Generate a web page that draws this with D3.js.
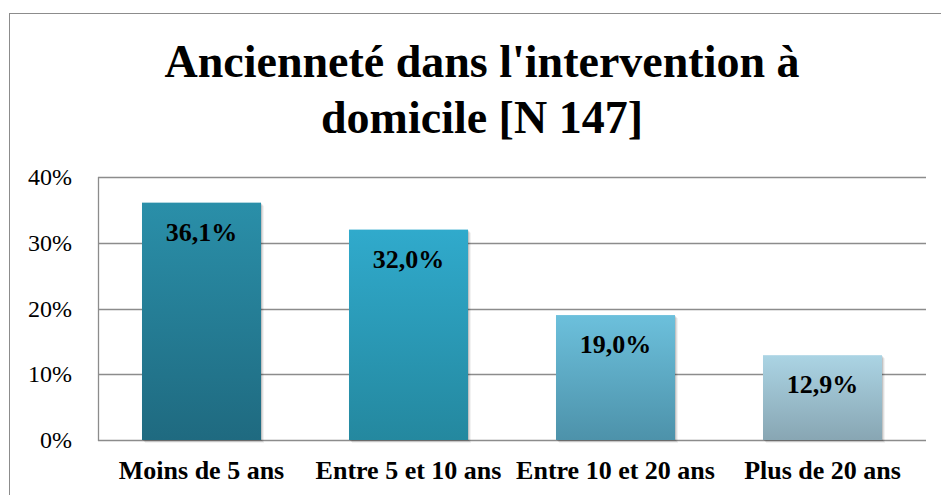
<!DOCTYPE html>
<html><head><meta charset="utf-8">
<script src="https://cdn.jsdelivr.net/npm/d3@7"></script>
</head><body style="margin:0">
<svg id="c" width="941" height="495" font-family="Liberation Serif, Tinos, Times New Roman, serif"></svg>
<script>
const categories = ["Moins de 5 ans", "Entre 5 et 10 ans", "Entre 10 et 20 ans", "Plus de 20 ans"];
const values = [36.1, 32.0, 19.0, 12.9];
const valueLabels = ["36,1%", "32,0%", "19,0%", "12,9%"];
const yTicks = [0, 10, 20, 30, 40];
const titleLines = ["Ancienneté dans l'intervention à", "domicile [N 147]"];
const barColors = [["#2a8fa9", "#1f6a80"], ["#30aacc", "#24889f"], ["#6cc0dc", "#4d92aa"], ["#abd4e4", "#88a6b3"]];

const svg = d3.select("#c");
const FF = '"Liberation Serif", Tinos, "Times New Roman", serif';
const pLeft = 98, pRight = 926, pTop = 177, pBottom = 440;

svg.append("rect").attr("x", 9.5).attr("y", 13.5).attr("width", 940).attr("height", 490)
  .attr("fill", "#fff").attr("stroke", "#8c8c8c").attr("stroke-width", 1);

// title, drawn first, each line its own text element
titleLines.forEach((t, i) => {
  svg.append("text")
    .attr("x", 482).attr("y", 77 + i * 56).attr("text-anchor", "middle")
    .attr("font-family", "Tinos, Liberation Serif, serif")
    .attr("font-weight", "bold").attr("font-size", 46)
    .style("font-family", '"Liberation Serif"')
    .text(t);
});

const defs = svg.append("defs");
barColors.forEach((c, i) => {
  const g = defs.append("linearGradient").attr("id", "g" + i).attr("x1", 0).attr("y1", 0).attr("x2", 0).attr("y2", 1);
  g.append("stop").attr("offset", 0).attr("stop-color", c[0]);
  g.append("stop").attr("offset", 1).attr("stop-color", c[1]);
});

const x = d3.scaleBand().domain(categories).range([pLeft, pRight]).paddingInner(0.425).paddingOuter(0.2125);
const y = d3.scaleLinear().domain([0, 40]).range([pBottom, pTop]);

// gridlines
svg.append("g").selectAll("line").data(yTicks).join("line")
  .attr("x1", pLeft).attr("x2", pRight).attr("y1", d => Math.round(y(d)) + 0.5).attr("y2", d => Math.round(y(d)) + 0.5)
  .attr("stroke", "#8c8c8c").attr("stroke-width", 1.3);
svg.append("line").attr("x1", pLeft + 0.5).attr("x2", pLeft + 0.5).attr("y1", pTop).attr("y2", pBottom + 1)
  .attr("stroke", "#8c8c8c").attr("stroke-width", 1.3);

// y axis labels
const yAxis = d3.axisLeft(y).tickValues(yTicks).tickFormat(d => d + "%").tickSize(0).tickPadding(26);
const ya = svg.append("g").attr("transform", `translate(${pLeft},0)`).call(yAxis);
ya.select(".domain").remove();
ya.attr("font-family", null).attr("font-size", null);
ya.selectAll("text").style("font-family", FF).style("font-size", "24px").attr("fill", "#000");

// bar shadows
[[1, 0.12], [2, 0.08], [3, 0.05]].forEach(([o, a]) => {
  svg.append("g").selectAll("rect").data(values).join("rect")
    .attr("x", (d, i) => x(categories[i]) + o).attr("width", x.bandwidth())
    .attr("y", d => y(d) + o).attr("height", d => y(0) - y(d))
    .attr("fill", "#000").attr("opacity", a);
});

// bars
svg.append("g").selectAll("rect").data(values).join("rect")
  .attr("x", (d, i) => x(categories[i])).attr("width", x.bandwidth())
  .attr("y", d => y(d)).attr("height", d => y(0) - y(d))
  .attr("fill", (d, i) => `url(#g${i})`);

svg.append("g").selectAll("text").data(values).join("text")
  .attr("x", (d, i) => x(categories[i]) + x.bandwidth() / 2).attr("y", d => y(d) + 38)
  .attr("text-anchor", "middle").style("font-family", FF).style("font-weight", "bold").style("font-size", "26px")
  .text((d, i) => valueLabels[i]);

// x axis labels
const xAxis = d3.axisBottom(x).tickSize(0).tickPadding(21);
const xa = svg.append("g").attr("transform", `translate(0,${pBottom})`).call(xAxis);
xa.select(".domain").remove();
xa.attr("font-family", null).attr("font-size", null);
xa.selectAll("text").style("font-family", FF).style("font-weight", "bold").style("font-size", "26px").attr("fill", "#000");
</script>
</body></html>
